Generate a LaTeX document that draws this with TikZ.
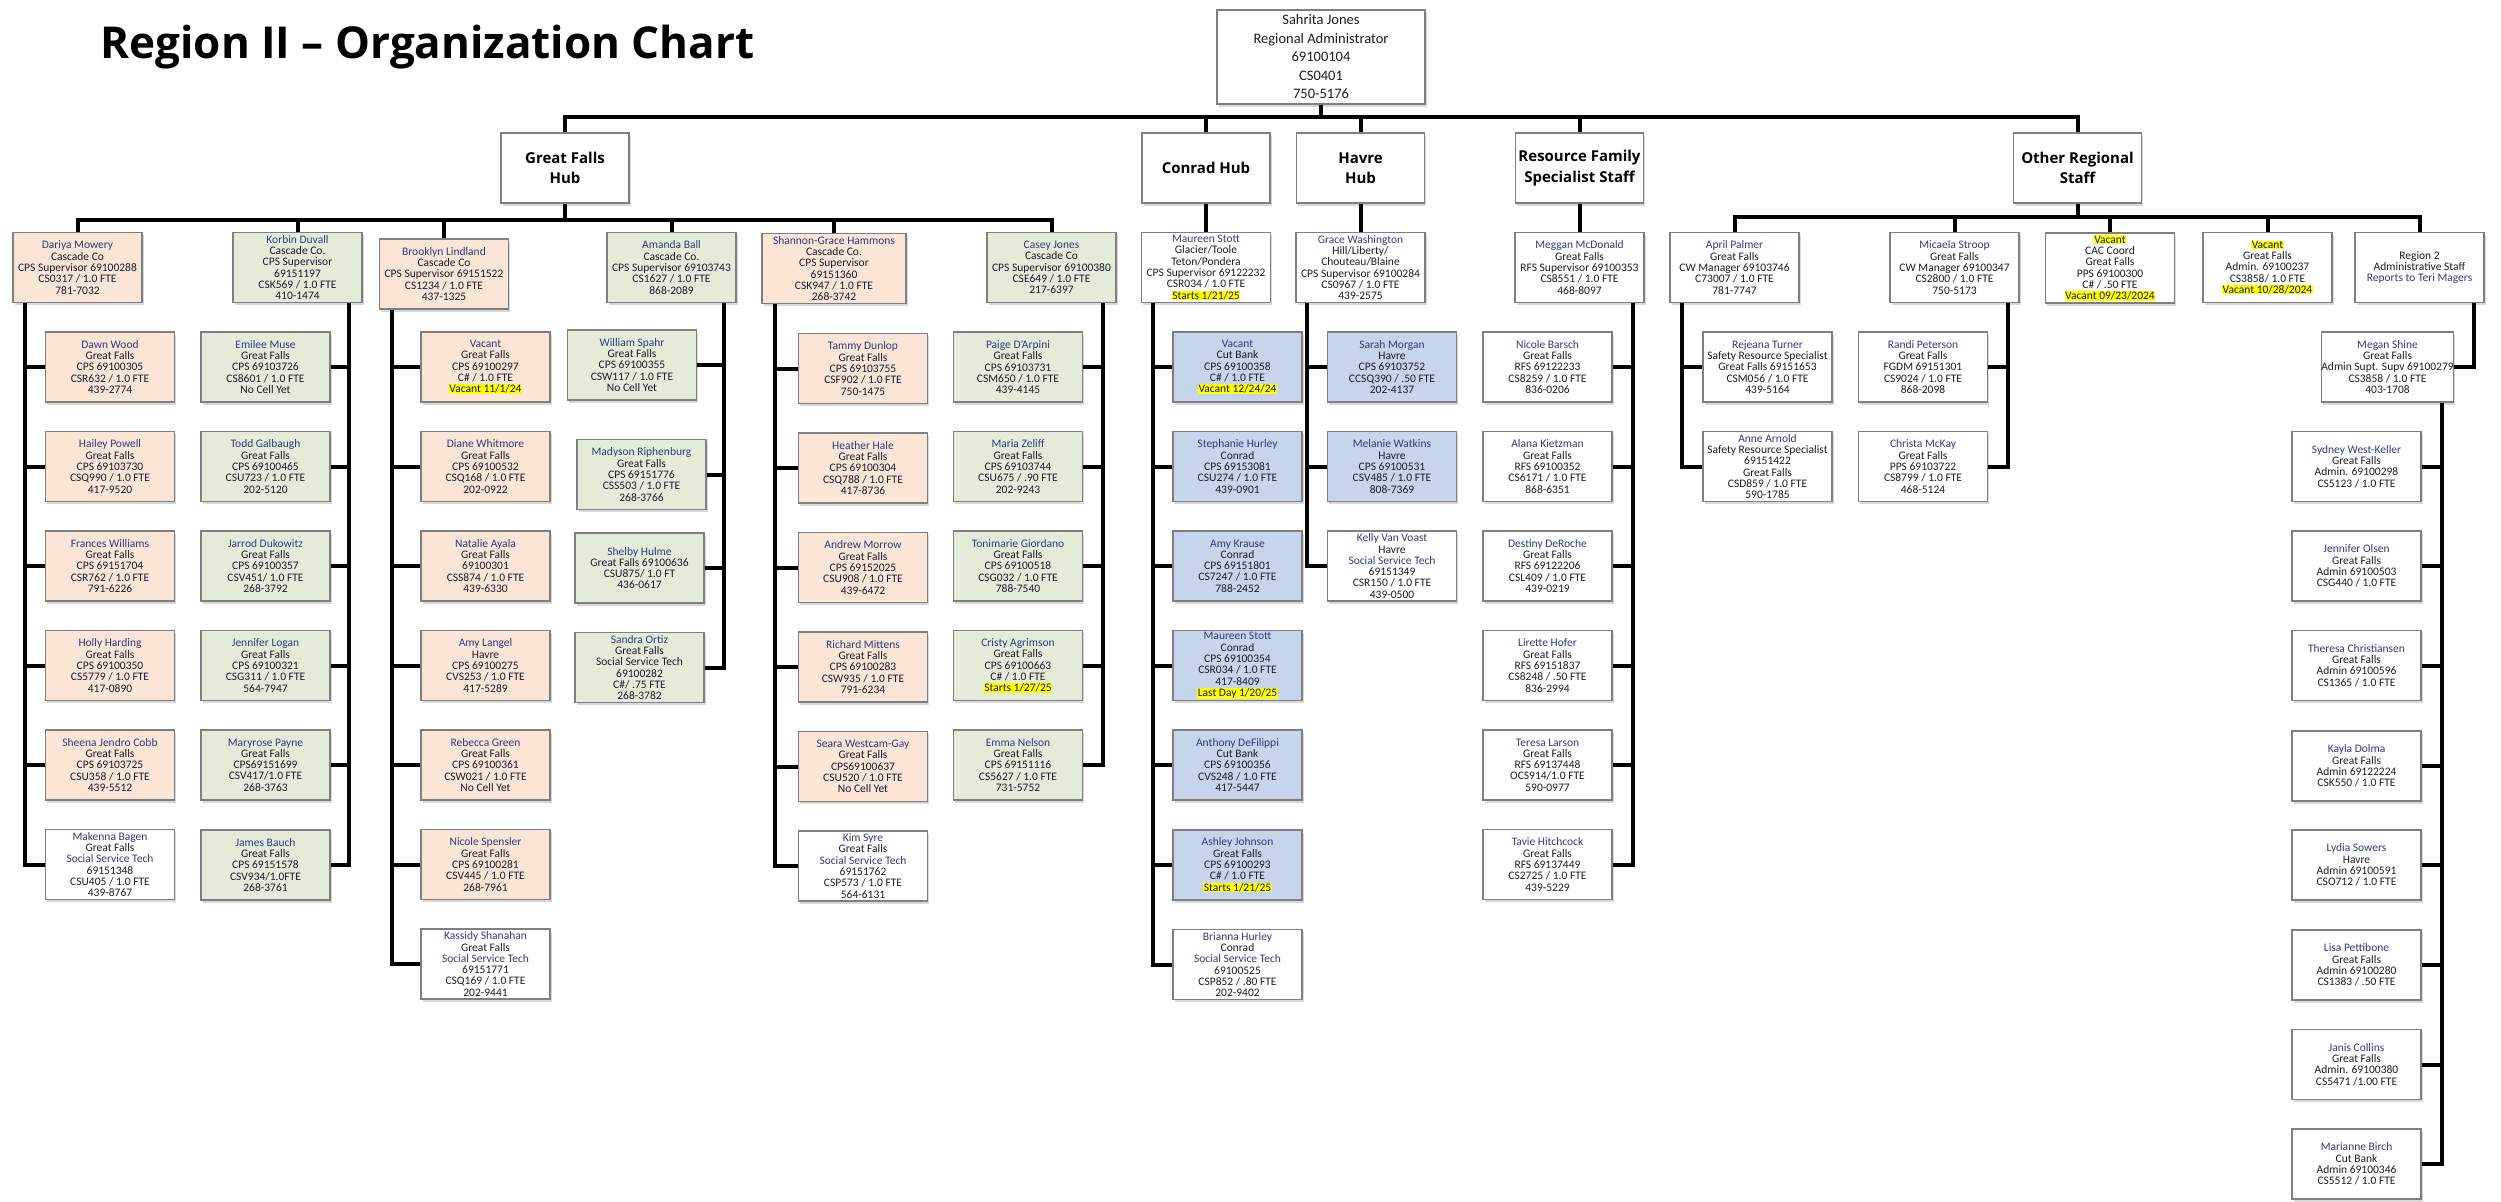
\documentclass[tikz,border=0pt]{standalone}
\usepackage{fontspec}
\setmainfont{Carlito}
\newfontfamily\hubfont{Open Sans}
\usetikzlibrary{shadows}
\definecolor{peachc}{HTML}{FBE5D6}
\definecolor{greenc}{HTML}{E4ECD9}
\definecolor{bluec}{HTML}{C6D5EC}
\definecolor{boxgray}{HTML}{7F7F7F}
\definecolor{navy}{HTML}{2F3C7E}
\definecolor{txt}{HTML}{1C1C2C}
\definecolor{hly}{HTML}{FFFF00}
\newcommand\nm[1]{\textcolor{navy}{#1}}
\newcommand\hl[1]{{\setlength{\fboxsep}{0.4pt}\colorbox{hly}{#1}}}
\begin{document}
\begin{tikzpicture}[x=1pt,y=-1pt,
  pb/.style={draw=boxgray, line width=1.1pt, minimum width=129pt, minimum height=70pt,
    inner sep=0pt, align=center, font=\fontsize{11.5}{11.3}\selectfont, text=txt,
    drop shadow={shadow xshift=1.5pt, shadow yshift=-2.5pt, opacity=0.3}},
  peach/.style={pb, fill=peachc},
  grn/.style={pb, fill=greenc},
  blu/.style={pb, fill=bluec},
  wht/.style={pb, fill=white},
  hub/.style={draw=boxgray, line width=1.1pt, fill=white, minimum width=128pt, minimum height=70pt,
    inner sep=0pt, align=center, font=\hubfont\bfseries\fontsize{15}{20.5}\selectfont,
    drop shadow={shadow xshift=1.5pt, shadow yshift=-2.5pt, opacity=0.3}},
  conn/.style={line width=4pt, black}
]
\fill[white] (0,0) rectangle (2501,1202);
\useasboundingbox (0,0) rectangle (2501,1202);

\node[anchor=base west, font=\hubfont\bfseries\fontsize{44}{50}\selectfont] (title) at (97,58) {Region II – Organization Chart};

\node[hub, minimum width=208pt, minimum height=94pt, font=\fontsize{14.5}{18.5}\selectfont, text=txt] (sah) at (1321,57)
  {Sahrita Jones\\Regional Administrator\\69100104\\CS0401\\750-5176};

% hubs
\node[hub] (gf) at (565,168) {Great Falls\\Hub};
\node[hub] (con) at (1206,168) {Conrad Hub};
\node[hub] (hav) at (1360.5,168) {Havre\\Hub};
\node[hub] (rfs) at (1579.5,168) {Resource Family\\Specialist Staff};
\node[hub] (ors) at (2077.5,168) {Other Regional\\Staff};

% ---------- Great Falls ----------
\node[peach] (dar) at (77.5,267.5) {\nm{Dariya Mowery}\\Cascade Co\\CPS Supervisor 69100288\\CS0317 / 1.0 FTE\\781-7032};
\node[peach] (d1) at (110,367) {\nm{Dawn Wood}\\Great Falls\\CPS 69100305\\CSR632 / 1.0 FTE\\439-2774};
\node[peach] (d2) at (110,466.5) {\nm{Hailey Powell}\\Great Falls\\CPS 69103730\\CSQ990 / 1.0 FTE\\417-9520};
\node[peach] (d3) at (110,566) {\nm{Frances Williams}\\Great Falls\\CPS 69151704\\CSR762 / 1.0 FTE\\791-6226};
\node[peach] (d4) at (110,665.5) {\nm{Holly Harding}\\Great Falls\\CPS 69100350\\CS5779 / 1.0 FTE\\417-0890};
\node[peach] (d5) at (110,765) {\nm{Sheena Jendro Cobb}\\Great Falls\\CPS 69103725\\CSU358 / 1.0 FTE\\439-5512};
\node[wht] (d6) at (110,864.5) {\nm{Makenna Bagen}\\Great Falls\\\nm{Social Service Tech}\\69151348\\CSU405 / 1.0 FTE\\439-8767};

\node[grn] (kor) at (297.5,267.5) {\nm{Korbin Duvall}\\Cascade Co.\\CPS Supervisor\\69151197\\CSK569 / 1.0 FTE\\410-1474};
\node[grn] (k1) at (265.5,367) {\nm{Emilee Muse}\\Great Falls\\CPS 69103726\\CS8601 / 1.0 FTE\\No Cell Yet};
\node[grn] (k2) at (265.5,466.5) {\nm{Todd Galbaugh}\\Great Falls\\CPS 69100465\\CSU723 / 1.0 FTE\\202-5120};
\node[grn] (k3) at (265.5,566) {\nm{Jarrod Dukowitz}\\Great Falls\\CPS 69100357\\CSV451/ 1.0 FTE\\268-3792};
\node[grn] (k4) at (265.5,665.5) {\nm{Jennifer Logan}\\Great Falls\\CPS 69100321\\CSG311 / 1.0 FTE\\564-7947};
\node[grn] (k5) at (265.5,765) {\nm{Maryrose Payne}\\Great Falls\\CPS69151699\\CSV417/1.0 FTE\\268-3763};
\node[grn] (k6) at (265.5,865) {\nm{James Bauch}\\Great Falls\\CPS 69151578\\CSV934/1.0FTE\\268-3761};

\node[peach] (bro) at (444,274) {\nm{Brooklyn Lindland}\\Cascade Co\\CPS Supervisor 69151522\\CS1234 / 1.0 FTE\\437-1325};
\node[peach] (b1) at (485.5,367) {\nm{Vacant}\\Great Falls\\CPS 69100297\\C\# / 1.0 FTE\\\hl{Vacant 11/1/24}};
\node[peach] (b2) at (485.5,466.5) {\nm{Diane Whitmore}\\Great Falls\\CPS 69100532\\CSQ168 / 1.0 FTE\\202-0922};
\node[peach] (b3) at (485.5,566) {\nm{Natalie Ayala}\\Great Falls\\69100301\\CSS874 / 1.0 FTE\\439-6330};
\node[peach] (b4) at (485.5,665.5) {\nm{Amy Langel}\\Havre\\CPS 69100275\\CVS253 / 1.0 FTE\\417-5289};
\node[peach] (b5) at (485.5,765) {\nm{Rebecca Green}\\Great Falls\\CPS 69100361\\CSW021 / 1.0 FTE\\No Cell Yet};
\node[peach] (b6) at (485.5,864.5) {\nm{Nicole Spensler}\\Great Falls\\CPS 69100281\\CSV445 / 1.0 FTE\\268-7961};
\node[wht] (b7) at (485.5,964) {\nm{Kassidy Shanahan}\\Great Falls\\\nm{Social Service Tech}\\69151771\\CSQ169 / 1.0 FTE\\202-9441};

\node[grn] (ama) at (671.5,267.5) {\nm{Amanda Ball}\\Cascade Co.\\CPS Supervisor 69103743\\CS1627 / 1.0 FTE\\868-2089};
\node[grn] (a1) at (632,365) {\nm{William Spahr}\\Great Falls\\CPS 69100355\\CSW117 / 1.0 FTE\\No Cell Yet};
\node[grn] (a2) at (641.5,474.5) {\nm{Madyson Riphenburg}\\Great Falls\\CPS 69151776\\CSS503 / 1.0 FTE\\268-3766};
\node[grn] (a3) at (639.5,568) {\nm{Shelby Hulme}\\Great Falls 69100636\\CSU875/ 1.0 FT\\436-0617};
\node[grn] (a4) at (639.5,667.5) {\nm{Sandra Ortiz}\\Great Falls\\Social Service Tech\\69100282\\C\#/ .75 FTE\\268-3782};

\node[peach, minimum width=144pt] (sha) at (834,268.5) {\nm{Shannon-Grace Hammons}\\Cascade Co.\\CPS Supervisor\\69151360\\CSK947 / 1.0 FTE\\268-3742};
\node[peach] (s1) at (863,368.5) {\nm{Tammy Dunlop}\\Great Falls\\CPS 69103755\\CSF902 / 1.0 FTE\\750-1475};
\node[peach] (s2) at (863,468) {\nm{Heather Hale}\\Great Falls\\CPS 69100304\\CSQ788 / 1.0 FTE\\417-8736};
\node[peach] (s3) at (863,567.5) {\nm{Andrew Morrow}\\Great Falls\\CPS 69152025\\CSU908 / 1.0 FTE\\439-6472};
\node[peach] (s4) at (863,667) {\nm{Richard Mittens}\\Great Falls\\CPS 69100283\\CSW935 / 1.0 FTE\\791-6234};
\node[peach] (s5) at (863,766.5) {\nm{Seara Westcam-Gay}\\Great Falls\\CPS69100637\\CSU520 / 1.0 FTE\\No Cell Yet};
\node[wht] (s6) at (863,866) {\nm{Kim Syre}\\Great Falls\\\nm{Social Service Tech}\\69151762\\CSP573 / 1.0 FTE\\564-6131};

\node[grn] (cas) at (1051.5,267.5) {\nm{Casey Jones}\\Cascade Co\\CPS Supervisor 69100380\\CSE649 / 1.0 FTE\\217-6397};
\node[grn] (j1) at (1018,367) {\nm{Paige D'Arpini}\\Great Falls\\CPS 69103731\\CSM650 / 1.0 FTE\\439-4145};
\node[grn] (j2) at (1018,466.5) {\nm{Maria Zeliff}\\Great Falls\\CPS 69103744\\CSU675 / .90 FTE\\202-9243};
\node[grn] (j3) at (1018,566) {\nm{Tonimarie Giordano}\\Great Falls\\CPS 69100518\\CSG032 / 1.0 FTE\\788-7540};
\node[grn] (j4) at (1018,665.5) {\nm{Cristy Agrimson}\\Great Falls\\CPS 69100663\\C\# / 1.0 FTE\\\hl{Starts 1/27/25}};
\node[grn] (j5) at (1018,765) {\nm{Emma Nelson}\\Great Falls\\CPS 69151116\\CS5627 / 1.0 FTE\\731-5752};

% ---------- Conrad ----------
\node[wht] (mau) at (1206,267.5) {\nm{Maureen Stott}\\Glacier/Toole\\Teton/Pondera\\CPS Supervisor 69122232\\CSR034 / 1.0 FTE\\\hl{Starts 1/21/25}};
\node[blu] (c1) at (1237.5,367) {\nm{Vacant}\\Cut Bank\\CPS 69100358\\C\# / 1.0 FTE\\\hl{Vacant 12/24/24}};
\node[blu] (c2) at (1237.5,466.5) {\nm{Stephanie Hurley}\\Conrad\\CPS 69153081\\CSU274 / 1.0 FTE\\439-0901};
\node[blu] (c3) at (1237.5,566) {\nm{Amy Krause}\\Conrad\\CPS 69151801\\CS7247 / 1.0 FTE\\788-2452};
\node[blu] (c4) at (1237.5,665.5) {\nm{Maureen Stott}\\Conrad\\CPS 69100354\\CSR034 / 1.0 FTE\\417-8409\\\hl{Last Day 1/20/25}};
\node[blu] (c5) at (1237.5,765) {\nm{Anthony DeFilippi}\\Cut Bank\\CPS 69100356\\CVS248 / 1.0 FTE\\417-5447};
\node[blu] (c6) at (1237.5,865) {\nm{Ashley Johnson}\\Great Falls\\CPS 69100293\\C\# / 1.0 FTE\\\hl{Starts 1/21/25}};
\node[wht] (c7) at (1237.5,964.5) {\nm{Brianna Hurley}\\Conrad\\\nm{Social Service Tech}\\69100525\\CSP852 / .80 FTE\\202-9402};

% ---------- Havre ----------
\node[wht] (gra) at (1360.5,267.5) {\nm{Grace Washington}\\Hill/Liberty/\\Chouteau/Blaine\\CPS Supervisor 69100284\\CS0967 / 1.0 FTE\\439-2575};
\node[blu] (h1) at (1392,367) {\nm{Sarah Morgan}\\Havre\\CPS 69103752\\CCSQ390 / .50 FTE\\202-4137};
\node[blu] (h2) at (1392,466.5) {\nm{Melanie Watkins}\\Havre\\CPS 69100531\\CSV485 / 1.0 FTE\\808-7369};
\node[wht] (h3) at (1392,566) {\nm{Kelly Van Voast}\\Havre\\\nm{Social Service Tech}\\69151349\\CSR150 / 1.0 FTE\\439-0500};

% ---------- Resource Family ----------
\node[wht] (mgn) at (1579.5,267.5) {\nm{Meggan McDonald}\\Great Falls\\RFS Supervisor 69100353\\CS8551 / 1.0 FTE\\468-8097};
\node[wht] (r1) at (1547.5,367) {\nm{Nicole Barsch}\\Great Falls\\RFS 69122233\\CS8259 / 1.0 FTE\\836-0206};
\node[wht] (r2) at (1547.5,466.5) {\nm{Alana Kietzman}\\Great Falls\\RFS 69100352\\CS6171 / 1.0 FTE\\868-6351};
\node[wht] (r3) at (1547.5,566) {\nm{Destiny DeRoche}\\Great Falls\\RFS 69122206\\CSL409 / 1.0 FTE\\439-0219};
\node[wht] (r4) at (1547.5,665.5) {\nm{Lirette Hofer}\\Great Falls\\RFS 69151837\\CS8248 / .50 FTE\\836-2994};
\node[wht] (r5) at (1547.5,765) {\nm{Teresa Larson}\\Great Falls\\RFS 69137448\\OCS914/1.0 FTE\\590-0977};
\node[wht] (r6) at (1547.5,864.5) {\nm{Tavie Hitchcock}\\Great Falls\\RFS 69137449\\CS2725 / 1.0 FTE\\439-5229};

% ---------- Other Regional Staff ----------
\node[wht] (apr) at (1734.5,267.5) {\nm{April Palmer}\\Great Falls\\CW Manager 69103746\\C73007 / 1.0 FTE\\781-7747};
\node[wht] (p1) at (1767.5,367) {\nm{Rejeana Turner}\\Safety Resource Specialist\\Great Falls 69151653\\CSM056 / 1.0 FTE\\439-5164};
\node[wht] (p2) at (1767.5,466.5) {\nm{Anne Arnold}\\Safety Resource Specialist\\69151422\\Great Falls\\CSD859 / 1.0 FTE\\590-1785};
\node[wht] (mic) at (1954.5,267.5) {\nm{Micaela Stroop}\\Great Falls\\CW Manager 69100347\\CS2800 / 1.0 FTE\\750-5173};
\node[wht] (q1) at (1923,367) {\nm{Randi Peterson}\\Great Falls\\FGDM 69151301\\CS9024 / 1.0 FTE\\868-2098};
\node[wht] (q2) at (1923,466.5) {\nm{Christa McKay}\\Great Falls\\PPS 69103722\\CS8799 / 1.0 FTE\\468-5124};
\node[wht] (cac) at (2110,268) {\hl{Vacant}\\CAC Coord\\Great Falls\\PPS 69100300\\C\# / .50 FTE\\\hl{Vacant 09/23/2024}};
\node[wht] (vad) at (2267.5,267.5) {\hl{Vacant}\\Great Falls\\Admin. 69100237\\CS3858/ 1.0 FTE\\\hl{Vacant 10/28/2024}};
\node[wht] (reg) at (2419.5,267.5) {Region 2\\Administrative Staff\\\nm{Reports to Teri Magers}};
\node[wht] (meg) at (2387.5,367) {\nm{Megan Shine}\\Great Falls\\Admin Supt. Supv 69100279\\CS3858 / 1.0 FTE\\403-1708};
\node[wht] (m1) at (2356.5,466.5) {\nm{Sydney West-Keller}\\Great Falls\\Admin. 69100298\\CS5123 / 1.0 FTE};
\node[wht] (m2) at (2356.5,566) {\nm{Jennifer Olsen}\\Great Falls\\Admin 69100503\\CSG440 / 1.0 FTE};
\node[wht] (m3) at (2356.5,665.5) {\nm{Theresa Christiansen}\\Great Falls\\Admin 69100596\\CS1365 / 1.0 FTE};
\node[wht] (m4) at (2356.5,766) {\nm{Kayla Dolma}\\Great Falls\\Admin 69122224\\CSK550 / 1.0 FTE};
\node[wht] (m5) at (2356.5,865) {\nm{Lydia Sowers}\\Havre\\Admin 69100591\\CSO712 / 1.0 FTE};
\node[wht] (m6) at (2356.5,965) {\nm{Lisa Pettibone}\\Great Falls\\Admin 69100280\\CS1383 / .50 FTE};
\node[wht] (m7) at (2356.5,1064.5) {\nm{Janis Collins}\\Great Falls\\Admin. 69100380\\CS5471 /1.00 FTE};
\node[wht] (m8) at (2356.5,1164) {\nm{Marianne Birch}\\Cut Bank\\Admin 69100346\\CS5512 / 1.0 FTE};

% ---------- connectors ----------
\coordinate (mbus) at (0,117);
\coordinate (gfbus) at (0,220);
\coordinate (obus) at (0,217);
\draw[conn] (sah.south) -- (sah.south |- mbus);
\draw[conn] (gf.north) -- (gf.north |- mbus) -| (ors.north);
\foreach \h in {con,hav,rfs} \draw[conn] (\h.north) -- (\h.north |- mbus);

\draw[conn] (gf.south) -- (gf.south |- gfbus);
\draw[conn] (dar.north) -- (dar.north |- gfbus) -| (cas.north);
\foreach \s in {kor,bro,ama,sha} \draw[conn] (\s.north) -- (\s.north |- gfbus);

\coordinate (dart) at ([xshift=13pt]dar.south west);
\draw[conn] (dart) |- (d6.west);
\foreach \i in {1,...,5} \draw[conn] (d\i.west) -- (d\i.west -| dart);

\coordinate (kort) at ([xshift=-14pt]kor.south east);
\draw[conn] (kort) |- (k6.east);
\foreach \i in {1,...,5} \draw[conn] (k\i.east) -- (k\i.east -| kort);

\coordinate (brot) at ([xshift=13.5pt]bro.south west);
\draw[conn] (brot) |- (b7.west);
\foreach \i in {1,...,6} \draw[conn] (b\i.west) -- (b\i.west -| brot);

\coordinate (amat) at ([xshift=-13pt]ama.south east);
\draw[conn] (amat) |- (a4.east);
\foreach \i in {1,...,3} \draw[conn] (a\i.east) -- (a\i.east -| amat);

\coordinate (shat) at ([xshift=14pt]sha.south west);
\draw[conn] (shat) |- (s6.west);
\foreach \i in {1,...,5} \draw[conn] (s\i.west) -- (s\i.west -| shat);

\coordinate (cast) at ([xshift=-14pt]cas.south east);
\draw[conn] (cast) |- (j5.east);
\foreach \i in {1,...,4} \draw[conn] (j\i.east) -- (j\i.east -| cast);

\draw[conn] (con.south) -- (mau.north);
\coordinate (maut) at ([xshift=12pt]mau.south west);
\draw[conn] (maut) |- (c7.west);
\foreach \i in {1,...,6} \draw[conn] (c\i.west) -- (c\i.west -| maut);

\draw[conn] (hav.south) -- (gra.north);
\coordinate (grat) at ([xshift=12pt]gra.south west);
\draw[conn] (grat) |- (h3.west);
\foreach \i in {1,2} \draw[conn] (h\i.west) -- (h\i.west -| grat);

\draw[conn] (rfs.south) -- (mgn.north);
\coordinate (mgnt) at ([xshift=-12pt]mgn.south east);
\draw[conn] (mgnt) |- (r6.east);
\foreach \i in {1,...,5} \draw[conn] (r\i.east) -- (r\i.east -| mgnt);

\draw[conn] (ors.south) -- (ors.south |- obus);
\draw[conn] (apr.north) -- (apr.north |- obus) -| (reg.north);
\foreach \s in {mic,cac,vad} \draw[conn] (\s.north) -- (\s.north |- obus);

\coordinate (aprt) at ([xshift=13pt]apr.south west);
\draw[conn] (aprt) |- (p2.west);
\draw[conn] (p1.west) -- (p1.west -| aprt);

\coordinate (mict) at ([xshift=-12pt]mic.south east);
\draw[conn] (mict) |- (q2.east);
\draw[conn] (q1.east) -- (q1.east -| mict);

\draw[conn] ([xshift=-11pt]reg.south east) |- (meg.east);
\coordinate (megt) at ([xshift=-12pt]meg.south east);
\draw[conn] (megt) |- (m8.east);
\foreach \i in {1,...,7} \draw[conn] (m\i.east) -- (m\i.east -| megt);
\end{tikzpicture}
\end{document}
